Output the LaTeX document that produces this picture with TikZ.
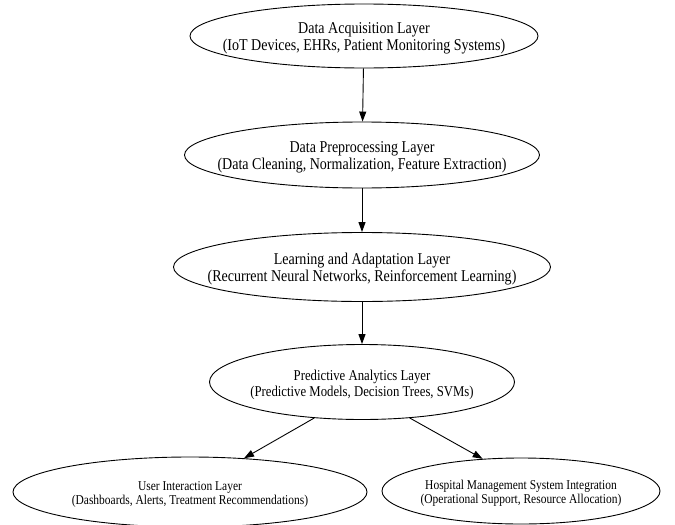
\documentclass[tikz,border=0pt]{standalone}
\usepackage{fontspec}
\setmainfont{Liberation Serif}[FakeStretch=0.85]
\usetikzlibrary{shapes.geometric,arrows.meta}
\newcommand{\twolines}[2]{\raisebox{-3pt}[\height][\depth]{\begin{tabular}{@{}c@{}}#1\\#2\end{tabular}}}
\tikzset{
  layer/.style={ellipse, draw, line width=0.9pt, inner sep=-80pt, align=center,
    font=\fontsize{16.5}{18}\selectfont},
  midfont/.style={font=\fontsize{15}{17}\selectfont},
  lowfont/.style={font=\fontsize{13.5}{15}\selectfont},
  arr/.style={line width=0.9pt, -{Triangle[length=10pt,width=7pt]}}
}
\renewcommand{\arraystretch}{0.95}
\begin{document}
\begin{tikzpicture}[x=1pt,y=-1pt]
\useasboundingbox (0,0) rectangle (675,525);
\clip (0,0) rectangle (675,525);
\node[layer, minimum width=348pt, minimum height=64pt] (e1) at (364,36)
  {\twolines{Data Acquisition Layer}{(IoT Devices, EHRs, Patient Monitoring Systems)}};
\node[layer, minimum width=355pt, minimum height=66pt] (e2) at (362,155)
  {\twolines{Data Preprocessing Layer}{(Data Cleaning, Normalization, Feature Extraction)}};
\node[layer, minimum width=377pt, minimum height=69pt] (e3) at (362,267)
  {\twolines{Learning and Adaptation Layer}{(Recurrent Neural Networks, Reinforcement Learning)}};
\node[layer, midfont, minimum width=305pt, minimum height=75pt] (e4) at (362,382)
  {\twolines{Predictive Analytics Layer}{(Predictive Models, Decision Trees, SVMs)}};
\node[layer, lowfont, minimum width=354pt, minimum height=70pt] (e5) at (190,492)
  {\twolines{User Interaction Layer}{(Dashboards, Alerts, Treatment Recommendations)}};
\node[layer, lowfont, minimum width=278pt, minimum height=66pt] (e6) at (521,491)
  {\twolines{Hospital Management System Integration}{(Operational Support, Resource Allocation)}};
\draw[arr] (e1) -- (e2);
\draw[arr] (e2) -- (e3);
\draw[arr] (e3) -- (e4);
\draw[arr] (e4.217) -- (e5.32);
\draw[arr] (e4.323) -- (e6.140);
\end{tikzpicture}
\end{document}
